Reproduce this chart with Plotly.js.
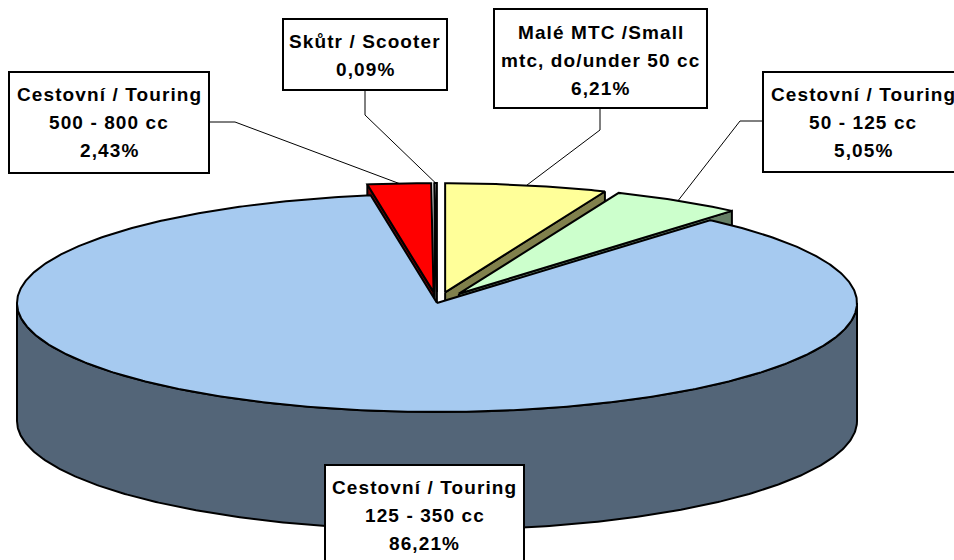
<!DOCTYPE html>
<html>
<head>
<meta charset="utf-8">
<script src="https://cdn.plot.ly/plotly-3.0.1.min.js"></script>
<style>
html,body{margin:0;padding:0;background:#fff;}
#chart{width:954px;height:560px;}
.annotation-text{letter-spacing:1.1px;}
</style>
</head>
<body>
<div id="chart"></div>
<script>
// ---- data ----
const categories = ["Malé MTC /Small mtc, do/under 50 cc", "Cestovní / Touring 50 - 125 cc", "Cestovní / Touring 125 - 350 cc", "Cestovní / Touring 500 - 800 cc", "Skůtr / Scooter"];
const labelLines = [["Malé MTC /Small", "mtc, do/under 50 cc"], ["Cestovní / Touring", "50 - 125 cc"], ["Cestovní / Touring", "125 - 350 cc"], ["Cestovní / Touring", "500 - 800 cc"], ["Skůtr / Scooter"]];
const shares = [6.21, 5.05, 86.21, 2.43, 0.09];

// ---- style ----
const topColors = ["#FFFF99", "#CCFFCC", "#A6CAF0", "#FF0000", "#FFFFFF"];
const sideColors = ["#80804C", "#668066", "#536578", "#800000", "#808080"];
const explode = [0.1, 0.1, 0, 0.1, 0.1];
const pie = {cx: 437, cy: 303, rx: 420, ry: 109, depth: 118};
const boxes = [
  {x0: 494, y0: 9, x1: 707, y1: 108, textY: 32, elbow: [[600, 108], [600, 130]]},
  {x0: 763, y0: 72, x1: 966, y1: 172, textY: 94, textX: 863, elbow: [[763, 121], [740, 121]]},
  {x0: 325, y0: 465, x1: 524, y1: 590, textY: 487, elbow: null},
  {x0: 9, y0: 72, x1: 209, y1: 173, textY: 94, elbow: [[209, 122], [235, 122]]},
  {x0: 283, y0: 19, x1: 447, y1: 90, textY: 41, elbow: [[365, 90], [365, 115]]}
];
const lineStep = 28.2;
const fontFamily = "Liberation Sans, Arial, sans-serif";

// ---- geometry ----
const total = shares.reduce((a, b) => a + b, 0);
const rad = d => d * Math.PI / 180;
function P(theta, ox, oy, dz) {
  return [pie.cx + ox + pie.rx * Math.sin(rad(theta)), pie.cy + oy - pie.ry * Math.cos(rad(theta)) + dz];
}
function arc(a, b, ox, oy, dz) {
  const n = Math.max(2, Math.ceil(Math.abs(b - a) / 0.5));
  const pts = [];
  for (let k = 0; k <= n; k++) pts.push(P(a + (b - a) * k / n, ox, oy, dz));
  return pts;
}
function poly(pts, fill) {
  const c = pts.concat([pts[0]]);
  return {
    type: "scatter", mode: "lines", x: c.map(p => p[0]), y: c.map(p => p[1]),
    fill: "toself", fillcolor: fill, line: {color: "#000", width: 2, shape: "linear"},
    hoverinfo: "skip", showlegend: false
  };
}

const slices = [];
let cum = 0;
shares.forEach((v, i) => {
  const t1 = cum / total * 360;
  cum += v;
  const t2 = cum / total * 360;
  const mid = (t1 + t2) / 2;
  const ox = explode[i] * pie.rx * Math.sin(rad(mid));
  const oy = -explode[i] * pie.ry * Math.cos(rad(mid));
  slices.push({i, t1, t2, mid, ox, oy});
});

const traces = [];
slices.slice().sort((a, b) => Math.cos(rad(b.mid)) - Math.cos(rad(a.mid))).forEach(s => {
  const i = s.i, D = pie.depth;
  const apex = [pie.cx + s.ox, pie.cy + s.oy];
  const apexB = [apex[0], apex[1] + D];
  if (Math.sin(rad(s.t1)) < -1e-6) {
    traces.push(poly([apex, P(s.t1, s.ox, s.oy, 0), P(s.t1, s.ox, s.oy, D), apexB], sideColors[i]));
  }
  if (Math.sin(rad(s.t2)) > 1e-6) {
    traces.push(poly([apex, P(s.t2, s.ox, s.oy, 0), P(s.t2, s.ox, s.oy, D), apexB], sideColors[i]));
  }
  const a = Math.max(s.t1, 90), b = Math.min(s.t2, 270);
  if (a < b) {
    const top = arc(a, b, s.ox, s.oy, 0);
    const bot = arc(b, a, s.ox, s.oy, D);
    traces.push(poly(top.concat(bot), sideColors[i]));
  }
  traces.push(poly([apex].concat(arc(s.t1, s.t2, s.ox, s.oy, 0)), topColors[i]));
});

// leader lines
slices.forEach(s => {
  const bx = boxes[s.i];
  if (!bx.elbow) return;
  const end = P(s.mid, s.ox, s.oy, 0);
  const pts = bx.elbow.concat([end]);
  traces.push({
    type: "scatter", mode: "lines", x: pts.map(p => p[0]), y: pts.map(p => p[1]),
    line: {color: "#000", width: 1}, hoverinfo: "skip", showlegend: false
  });
});

// label boxes and texts
const shapes = [];
const annotations = [];
shares.forEach((v, i) => {
  const bx = boxes[i];
  shapes.push({type: "rect", xref: "x", yref: "y", x0: bx.x0, y0: bx.y0, x1: bx.x1, y1: bx.y1,
    line: {color: "#000", width: 2}, fillcolor: "#FFFFFF", layer: "above"});
  const lines = labelLines[i].concat([v.toFixed(2).replace(".", ",") + "%"]);
  const tx = bx.textX !== undefined ? bx.textX : (bx.x0 + bx.x1) / 2;
  lines.forEach((t, k) => {
    annotations.push({
      xref: "x", yref: "y", x: tx, y: bx.textY + k * lineStep, xanchor: "center", yanchor: "middle",
      showarrow: false, text: "<b>" + t + "</b>",
      font: {family: fontFamily, size: 19, color: "#000"}
    });
  });
});

const layout = {
  width: 954, height: 560,
  margin: {l: 0, r: 0, t: 0, b: 0, pad: 0},
  paper_bgcolor: "#FFFFFF", plot_bgcolor: "#FFFFFF",
  showlegend: false,
  xaxis: {range: [0, 954], visible: false, fixedrange: true},
  yaxis: {range: [560, 0], visible: false, fixedrange: true},
  shapes: shapes,
  annotations: annotations
};

Plotly.newPlot("chart", traces, layout, {displayModeBar: false, staticPlot: true});
</script>
</body>
</html>
